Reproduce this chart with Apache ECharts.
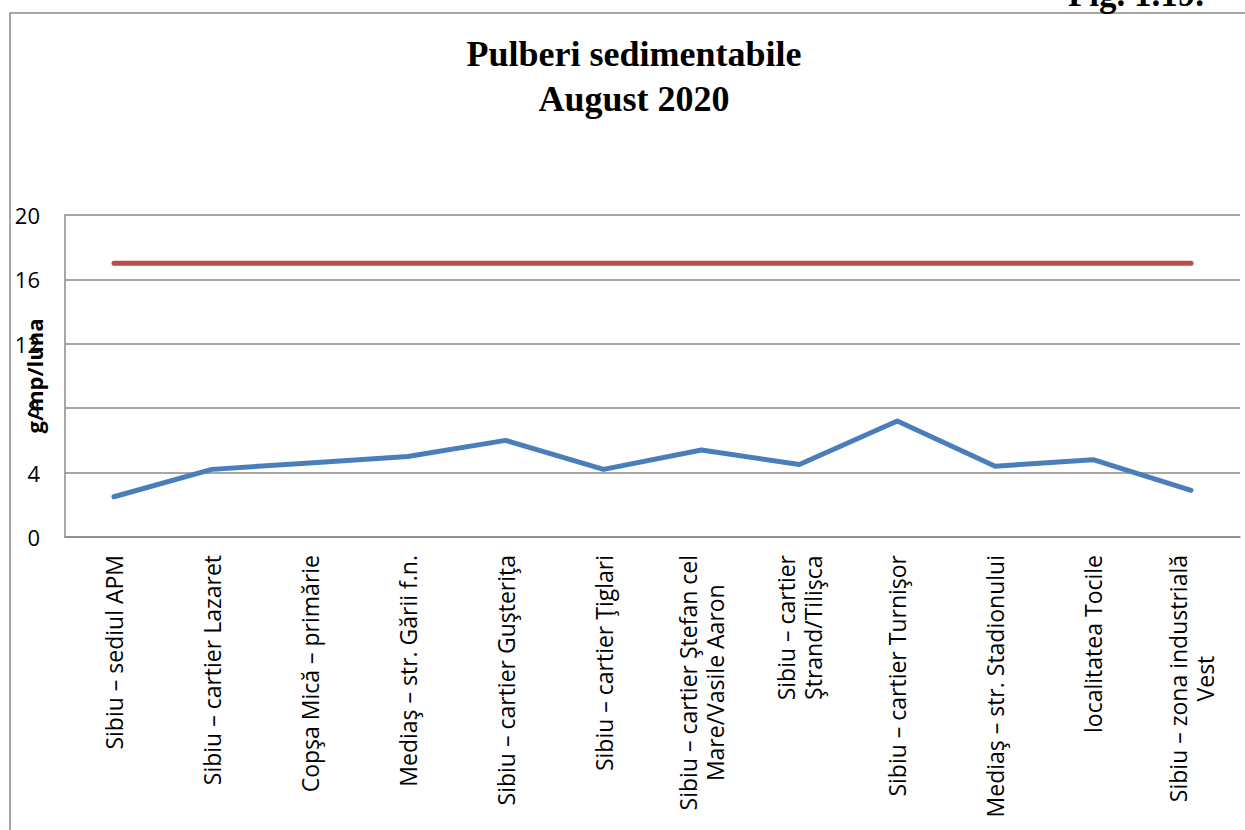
<!DOCTYPE html>
<html style="height: 100%">
  <head>
    <meta charset="utf-8" />
    <title>Pulberi sedimentabile</title>
    <script src="https://cdn.jsdelivr.net/npm/echarts@6/dist/echarts.min.js"></script>
  </head>
  <body style="height: 100%; margin: 0; background: #fff">
    <div id="container" style="width: 1245px; height: 830px"></div>
    <script type="text/javascript">
      // statii de monitorizare
      let stations = [
        "Sibiu – sediul APM",
        "Sibiu – cartier Lazaret",
        "Copşa Mică – primărie",
        "Mediaş – str. Gării f.n.",
        "Sibiu – cartier Guşteriţa",
        "Sibiu – cartier Ţiglari",
        "Sibiu – cartier Ştefan cel\nMare/Vasile Aaron",
        "Sibiu – cartier\nŞtrand/Tilişca",
        "Sibiu – cartier Turnişor",
        "Mediaş – str. Stadionului",
        "localitatea Tocile",
        "Sibiu – zona industrială\nVest",
      ];
      // valori masurate, g/mp/luna
      let measured = [2.5, 4.2, 4.6, 5.0, 6.0, 4.2, 5.4, 4.5, 7.2, 4.4, 4.8, 2.9];
      // valoare limita
      let limitValue = [17, 17, 17, 17, 17, 17, 17, 17, 17, 17, 17, 17];
      let yTicks = [0, 4, 8, 12, 16, 20];

      let dom = document.getElementById("container");
      let chart = echarts.init(dom, null, { renderer: "svg" });
      let grey = "#8a8a8a";

      chart.setOption({
        animation: false,
        backgroundColor: "#fff",
        graphic: [
          {
            type: "rect",
            shape: { x: 10, y: 13, width: 1300, height: 900 },
            style: { fill: "none", stroke: grey, lineWidth: 1.5 },
            silent: true,
            z: -1,
          },
          {
            type: "text",
            x: 634,
            y: 31,
            style: {
              text: "Pulberi sedimentabile\nAugust 2020",
              font: "bold 36px 'Liberation Serif'",
              fill: "#000",
              align: "center",
              verticalAlign: "top",
              lineHeight: 45,
            },
          },
          {
            type: "text",
            x: 1136,
            y: -6,
            style: {
              text: "Fig. 1.19.",
              font: "bold 35px 'Liberation Serif'",
              fill: "#000",
              align: "center",
              verticalAlign: "middle",
            },
          },
        ],
        grid: { left: 65, right: 5, top: 215, bottom: 293, outerBoundsMode: "none" },
        xAxis: {
          type: "category",
          data: stations,
          boundaryGap: true,
          axisLine: { lineStyle: { color: grey, width: 1.5 } },
          axisTick: { show: false },
          axisLabel: {
            interval: 0,
            rotate: 90,
            margin: 18,
            formatter: function (v) {
              return v
                .split("\n")
                .map((l) => "{c|" + l + "}")
                .join("\n");
            },
            rich: {
              c: {
                fontFamily: "Open Sans",
                fontSize: 23,
                color: "#000",
                align: "center",
                lineHeight: 27,
              },
            },
          },
        },
        yAxis: {
          type: "value",
          min: yTicks[0],
          max: yTicks[yTicks.length - 1],
          interval: 4,
          name: "g/mp/luna",
          nameLocation: "middle",
          nameGap: 20,
          nameMoveOverlap: false,
          nameTextStyle: {
            fontFamily: "Open Sans",
            fontSize: 22,
            fontWeight: "bold",
            color: "#000",
          },
          axisLine: { show: true, lineStyle: { color: grey, width: 1.5 } },
          axisTick: { show: false },
          splitLine: { lineStyle: { color: grey, width: 1.5 } },
          axisLabel: {
            margin: 25,
            fontFamily: "Open Sans",
            fontSize: 22,
            color: "#000",
          },
        },
        series: [
          {
            name: "Valoare limită",
            type: "line",
            data: limitValue,
            symbol: "none",
            lineStyle: { color: "#be4b48", width: 5, cap: "round" },
          },
          {
            name: "Pulberi sedimentabile",
            type: "line",
            data: measured,
            symbol: "none",
            lineStyle: { color: "#4a7ebb", width: 5, cap: "round", join: "round" },
          },
        ],
      });
    </script>
  </body>
</html>
